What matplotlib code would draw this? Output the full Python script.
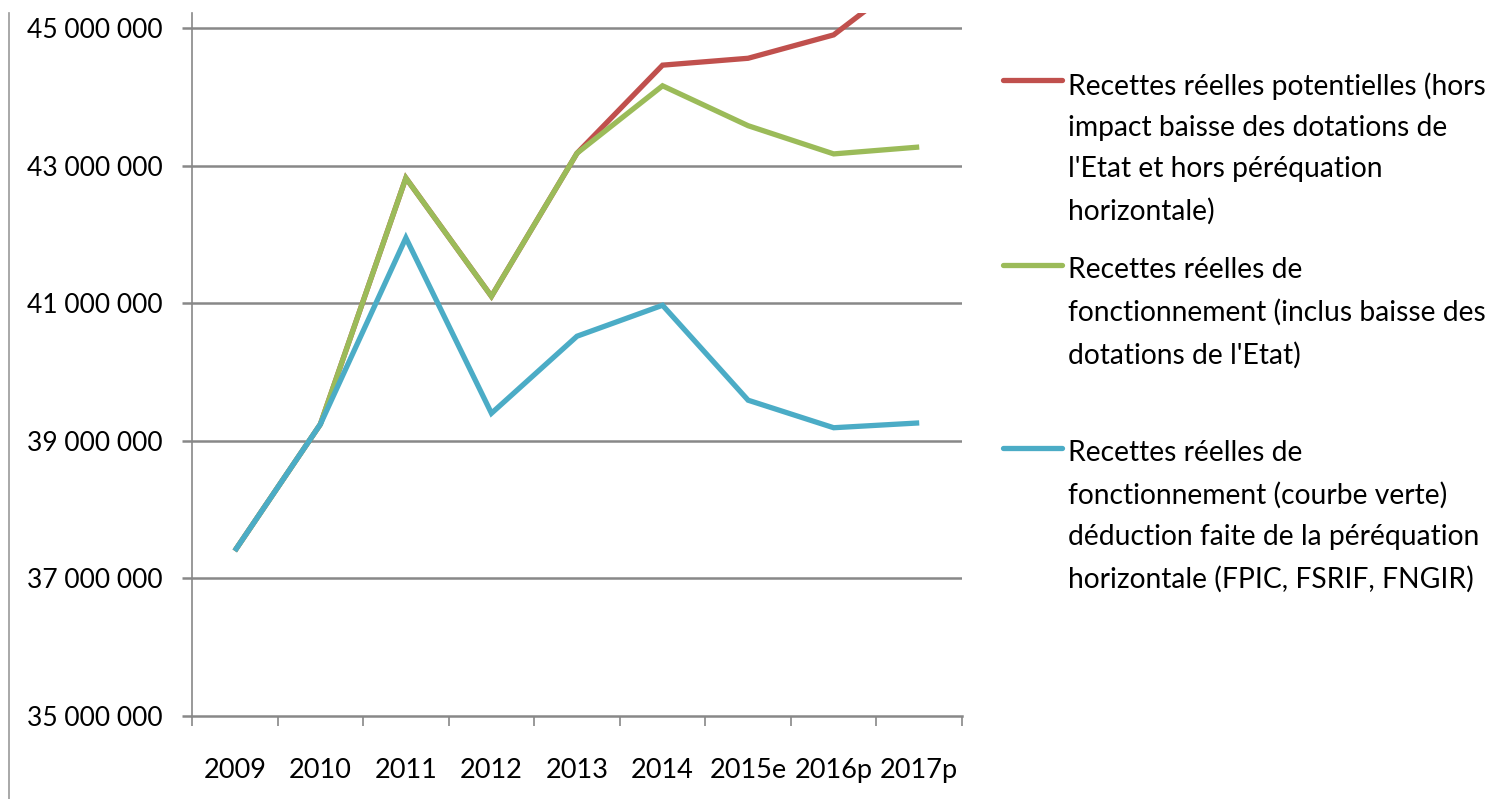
import matplotlib
matplotlib.use("Agg")
import matplotlib.pyplot as plt
from matplotlib.lines import Line2D
import numpy as np

years = ["2009", "2010", "2011", "2012", "2013", "2014", "2015e", "2016p", "2017p"]
red_vals = [37.40, 39.24, 42.82, 41.10, 43.18, 44.46, 44.56, 44.90, 45.85]
green_vals = [37.40, 39.24, 42.82, 41.10, 43.18, 44.16, 43.58, 43.17, 43.27]
blue_vals = [37.40, 39.24, 41.95, 39.40, 40.52, 40.97, 39.59, 39.19, 39.26]
labels = [
    "Recettes réelles potentielles (hors\nimpact baisse des dotations de\nl'Etat et hors péréquation\nhorizontale)",
    "Recettes réelles de\nfonctionnement (inclus baisse des\ndotations de l'Etat)",
    "Recettes réelles de\nfonctionnement (courbe verte)\ndéduction faite de la péréquation\nhorizontale (FPIC, FSRIF, FNGIR)",
]
colors = ["#C0504D", "#9BBB59", "#4BACC6"]
yticks = [35, 37, 39, 41, 43, 45]

plt.rcParams['font.family'] = ['Lato', 'DejaVu Sans']

W, H = 1506, 799
top_px = 13
fig = plt.figure(figsize=(W / 100, H / 100), dpi=100)
ax = fig.add_axes([192 / W, 1 - 716 / H, (962 - 192) / W, (716 - top_px) / H])

x = np.arange(len(years))
series = [red_vals, green_vals, blue_vals]
for vals, c in zip(series, colors):
    ax.plot(x, np.array(vals) * 1e6, color=c, lw=3.8, solid_capstyle='butt',
            solid_joinstyle='miter', zorder=3)

px_per_unit = (716 - 28) / 10.0
ymin = 35e6
ymax = 45e6 + (28 - top_px) / px_per_unit * 1e6
ax.set_ylim(ymin, ymax)
ax.set_xlim(-0.5, len(years) - 0.5)
ax.set_yticks([v * 1e6 for v in yticks])
ax.set_yticklabels([f"{v} 000 000" for v in yticks])
for v in yticks[1:]:
    ax.axhline(v * 1e6, color="#888888", lw=1.8, zorder=1)

ax.set_xticks(np.arange(-0.5, len(years), 1.0))
ax.set_xticklabels([])
ax.set_xticks(x, minor=True)
ax.set_xticklabels(years, minor=True)
ax.tick_params(axis='x', which='minor', length=0, pad=30, labelsize=19.5)
ax.tick_params(axis='x', which='major', length=7, width=1.2, color="#888888", direction='out')
ax.tick_params(axis='y', length=7, width=1.8, color="#888888", direction='out', pad=14, labelsize=19)

for s in ['top', 'right']:
    ax.spines[s].set_visible(False)
ax.spines['left'].set_color("#888888")
ax.spines['left'].set_linewidth(1.2)
ax.spines['bottom'].set_color("#888888")
ax.spines['bottom'].set_linewidth(1.8)

# left border line
fig.add_artist(Line2D([9 / W, 9 / W], [0, 1 - top_px / H], transform=fig.transFigure,
                      color="#999999", lw=1.2))

# legend
entry_tops = [80, 265, 448]
for lab, c, yt in zip(labels, colors, entry_tops):
    fig.add_artist(Line2D([1003 / W, 1062 / W], [1 - yt / H, 1 - yt / H], transform=fig.transFigure,
                          color=c, lw=3.8, solid_capstyle='round'))
    fig.text(1068 / W, 1 - (yt - 8) / H, lab, ha='left', va='top', fontsize=20.3,
             linespacing=1.73, color='black')

fig.savefig("out.png", dpi=100)
